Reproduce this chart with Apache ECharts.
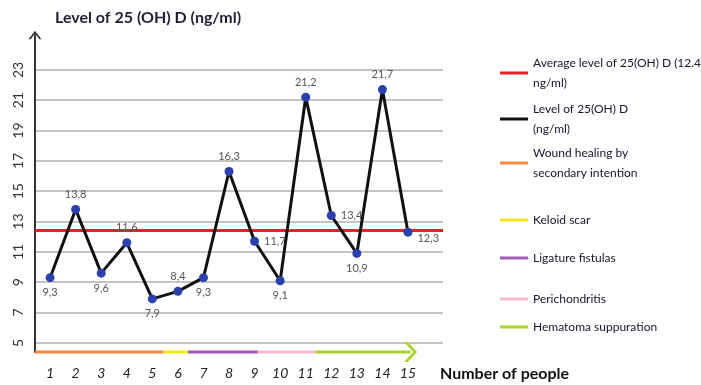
<!DOCTYPE html>
<html>
<head>
<meta charset="utf-8">
<script src="https://cdn.jsdelivr.net/npm/echarts@6/dist/echarts.min.js"></script>
<style>
html, body { margin: 0; padding: 0; background: #fff; }
#chart { width: 701px; height: 385px; }
</style>
</head>
<body>
<div id="chart"></div>
<script>
// patients and their 25(OH)D levels
const people = [1, 2, 3, 4, 5, 6, 7, 8, 9, 10, 11, 12, 13, 14, 15];
const levels = [9.3, 13.8, 9.6, 11.6, 7.9, 8.4, 9.3, 16.3, 11.7, 9.1, 21.2, 13.4, 10.9, 21.7, 12.3];
const average = 12.4;
const yTicks = [5, 7, 9, 11, 13, 15, 17, 19, 21, 23];

// complication groups along the x axis (start, end in people units)
const groups = ['Wound healing by secondary intention', 'Keloid scar', 'Ligature fistulas', 'Perichondritis', 'Hematoma suppuration'];
const groupRanges = [[0.41, 5.42], [5.42, 6.4], [6.4, 9.13], [9.13, 11.4], [11.4, 15.1]];
const groupColors = ['#f5883a', '#f7e41c', '#a25db5', '#f7b8cd', '#a8d42c'];

const labelPos = ['bottom', 'top', 'bottom', 'top', 'bottom', 'top', 'bottom', 'top', 'right', 'bottom', 'top', 'right', 'bottom', 'top', 'right'];

const font = "'Liberation Sans Narrow', 'Lato', sans-serif";
const yMin = 4.4;

const legendNames = {
	'Average level of 25(OH) D (12.4 ng/ml)': 'Average level of 25(OH) D (12.4\nng/ml)',
	'Level of 25(OH) D (ng/ml)': 'Level of 25(OH) D\n(ng/ml)',
	'Wound healing by secondary intention': 'Wound healing by\nsecondary intention',
};
const legendTops = [48, 94, 138, 205, 243, 284, 312];
const legendOrder = ['Average level of 25(OH) D (12.4 ng/ml)', 'Level of 25(OH) D (ng/ml)'].concat(groups);
const legendColors = ['#e8202a', '#111'].concat(groupColors);

const chart = echarts.init(document.getElementById('chart'));

let series = [
	{
		name: 'Level of 25(OH) D (ng/ml)',
		type: 'line',
		data: people.map((p, i) => ({
			value: [p, levels[i]],
			label: { position: labelPos[i], offset: i === 14 ? [0, 6] : [0, 0] },
		})),
		color: '#111',
		lineStyle: { color: '#111', width: 3 },
		symbol: 'circle',
		symbolSize: 9,
		itemStyle: { color: '#2b3fae' },
		label: {
			show: true,
			color: '#555',
			fontSize: 11,
			fontFamily: font,
			formatter: (p) => String(p.value[1]).replace('.', ','),
		},
		z: 5,
	},
	{
		name: 'Average level of 25(OH) D (12.4 ng/ml)',
		type: 'line',
		data: [],
		color: '#e8202a',
		markLine: {
			silent: true,
			symbol: 'none',
			label: { show: false },
			lineStyle: { color: '#e8202a', width: 3, type: 'solid' },
			data: [{ yAxis: average }],
		},
		z: 4,
	},
];

groups.forEach((g, i) => {
	let last = i === groups.length - 1;
	series.push({
		name: g,
		type: 'line',
		color: groupColors[i],
		clip: false,
		lineStyle: { width: 3, color: groupColors[i] },
		symbol: 'none',
		data: [
			{ value: [groupRanges[i][0], yMin] },
			last
				? {
					value: [groupRanges[i][1], yMin],
					symbol: 'path://M0,0 L4,0 L14,10 L4,20 L0,20 L10,10 Z',
					symbolSize: [13, 20],
					itemStyle: { color: groupColors[i] },
				}
				: { value: [groupRanges[i][1], yMin] },
		],
		showSymbol: true,
		z: 3,
	});
});

chart.setOption({
	animation: false,
	grid: { left: 35, right: 258, top: 35, bottom: 33 },
	xAxis: {
		type: 'value',
		min: 0.41,
		max: 16.37,
		axisLine: { show: false },
		axisTick: { show: false },
		splitLine: { show: false },
		axisLabel: {
			customValues: people,
			color: '#222',
			fontStyle: 'italic',
			fontSize: 14,
			fontFamily: font,
			margin: 14,
		},
	},
	yAxis: {
		type: 'value',
		min: yMin,
		max: 25.3,
		axisLine: {
			show: true,
			lineStyle: { color: '#333', width: 2 },
			symbol: ['none', 'path://M0,12 L9,0 L18,12 L15,12 L9,4 L3,12 Z'],
			symbolSize: [13, 13],
		},
		axisTick: { show: false, customValues: yTicks },
		splitLine: { show: true, lineStyle: { color: '#c4c4c4', width: 2 } },
		axisLabel: {
			customValues: yTicks,
			rotate: 90,
			color: '#333',
			fontSize: 14,
			fontFamily: font,
			margin: 10,
		},
	},
	legend: legendOrder.map((n, i) => ({
		data: [{ name: n, itemStyle: { color: legendColors[i] } }],
		left: 495,
		top: legendTops[i],
		orient: 'vertical',
		icon: 'rect',
		itemWidth: 28,
		itemHeight: 3,
		itemGap: 4,
		selectedMode: false,
		formatter: (name) => legendNames[name] || name,
		textStyle: { color: '#15152e', fontSize: 12, fontFamily: font, lineHeight: 20 },
	})),
	graphic: [
		{
			type: 'text',
			left: 55,
			top: 10,
			style: { text: 'Level of 25 (OH) D (ng/ml)', font: "bold 16px 'Liberation Sans Narrow', Lato, sans-serif", fill: '#1f1f3a' },
		},
		{
			type: 'text',
			left: 440,
			top: 366,
			style: { text: 'Number of people', font: "bold 16px 'Liberation Sans Narrow', Lato, sans-serif", fill: '#111' },
		},
	],
	series: series,
});
</script>
</body>
</html>
